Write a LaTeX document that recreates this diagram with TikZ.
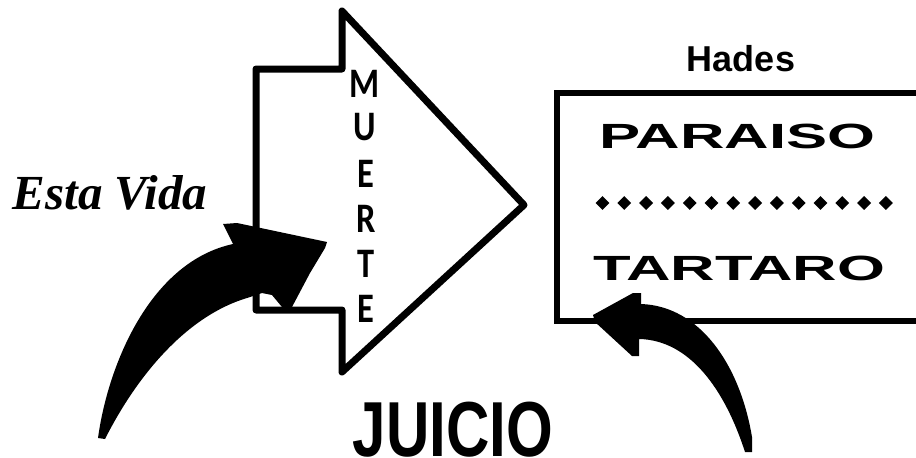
\documentclass[tikz,border=0pt]{standalone}
\usepackage{fontspec}
\setmainfont{Liberation Sans}
\newfontfamily\serifb{Liberation Serif}
\newfontfamily\narrowf{Carlito}
\usetikzlibrary{shapes.geometric}
\tikzset{
 outl/.style={draw=black,line width=7pt,line join=round},
 boxl/.style={draw=black,line width=6pt},
 blob/.style={fill=black,draw=none},
 dot/.style={diamond,fill=black,inner sep=0pt,minimum width=14pt,minimum height=14pt},
 letter/.style={font=\narrowf\bfseries\fontsize{42}{42}\selectfont,inner sep=0pt,anchor=base,xscale=.82},
 lab/.style={inner sep=0pt,anchor=base},
}
\begin{document}
\begin{tikzpicture}[x=1pt,y=-1pt]
\useasboundingbox (0,0) rectangle (916,458);
\draw[outl] (256,69) -- (342,69) -- (342,11) -- (524,205) -- (342,372) -- (342,310) -- (256,310) -- cycle;
\draw[boxl] (557,93) -- (916,93);
\draw[boxl] (557,90) -- (557,321) -- (916,321);
\fill[blob] (98,438) .. controls (108,365) and (150,262) .. (233,244) -- (223,224) -- (237,223) -- (327,242) -- (325,248) -- (310,273) -- (292,307) -- (282,307) -- (272,295) -- (262,293) -- (247,298) .. controls (190,315) and (140,370) .. (105,439) -- cycle;
\fill[blob] (745,452) -- (752,452) -- (752,437) .. controls (740,365) and (700,306) .. (641,304) -- (641,293) -- (633,293) -- (593,315) -- (595,322) -- (632,356) -- (639,356) -- (639,339) .. controls (690,340) and (725,390) .. (745,452) -- cycle;
\node[letter] (m) at (365,97) {M};
\node[letter] (u) at (365,140) {U};
\node[letter] (e1) at (366,187) {E};
\node[letter] (r) at (366,232) {R};
\node[letter] (t) at (366,277) {T};
\node[letter] (e2) at (366,322) {E};
\node[lab] (vida) at (110,209) {\serifb\bfseries\itshape\fontsize{49}{49}\selectfont Esta Vida};
\node[lab] (hades) at (741,71) {\bfseries\fontsize{36}{36}\selectfont Hades};
\node[lab,xscale=1.76] (par) at (737.5,148) {\bfseries\fontsize{35}{35}\selectfont PARAISO};
\node[lab,xscale=1.76] (tar) at (739,280) {\bfseries\fontsize{35}{35}\selectfont TARTARO};
\node[lab,xscale=.77] (juicio) at (453,456) {\bfseries\fontsize{78}{78}\selectfont JUICIO};
\foreach \i in {0,...,13} \node[dot] (d\i) at ({602.5+21.8*\i},203) {};
\end{tikzpicture}
\end{document}
